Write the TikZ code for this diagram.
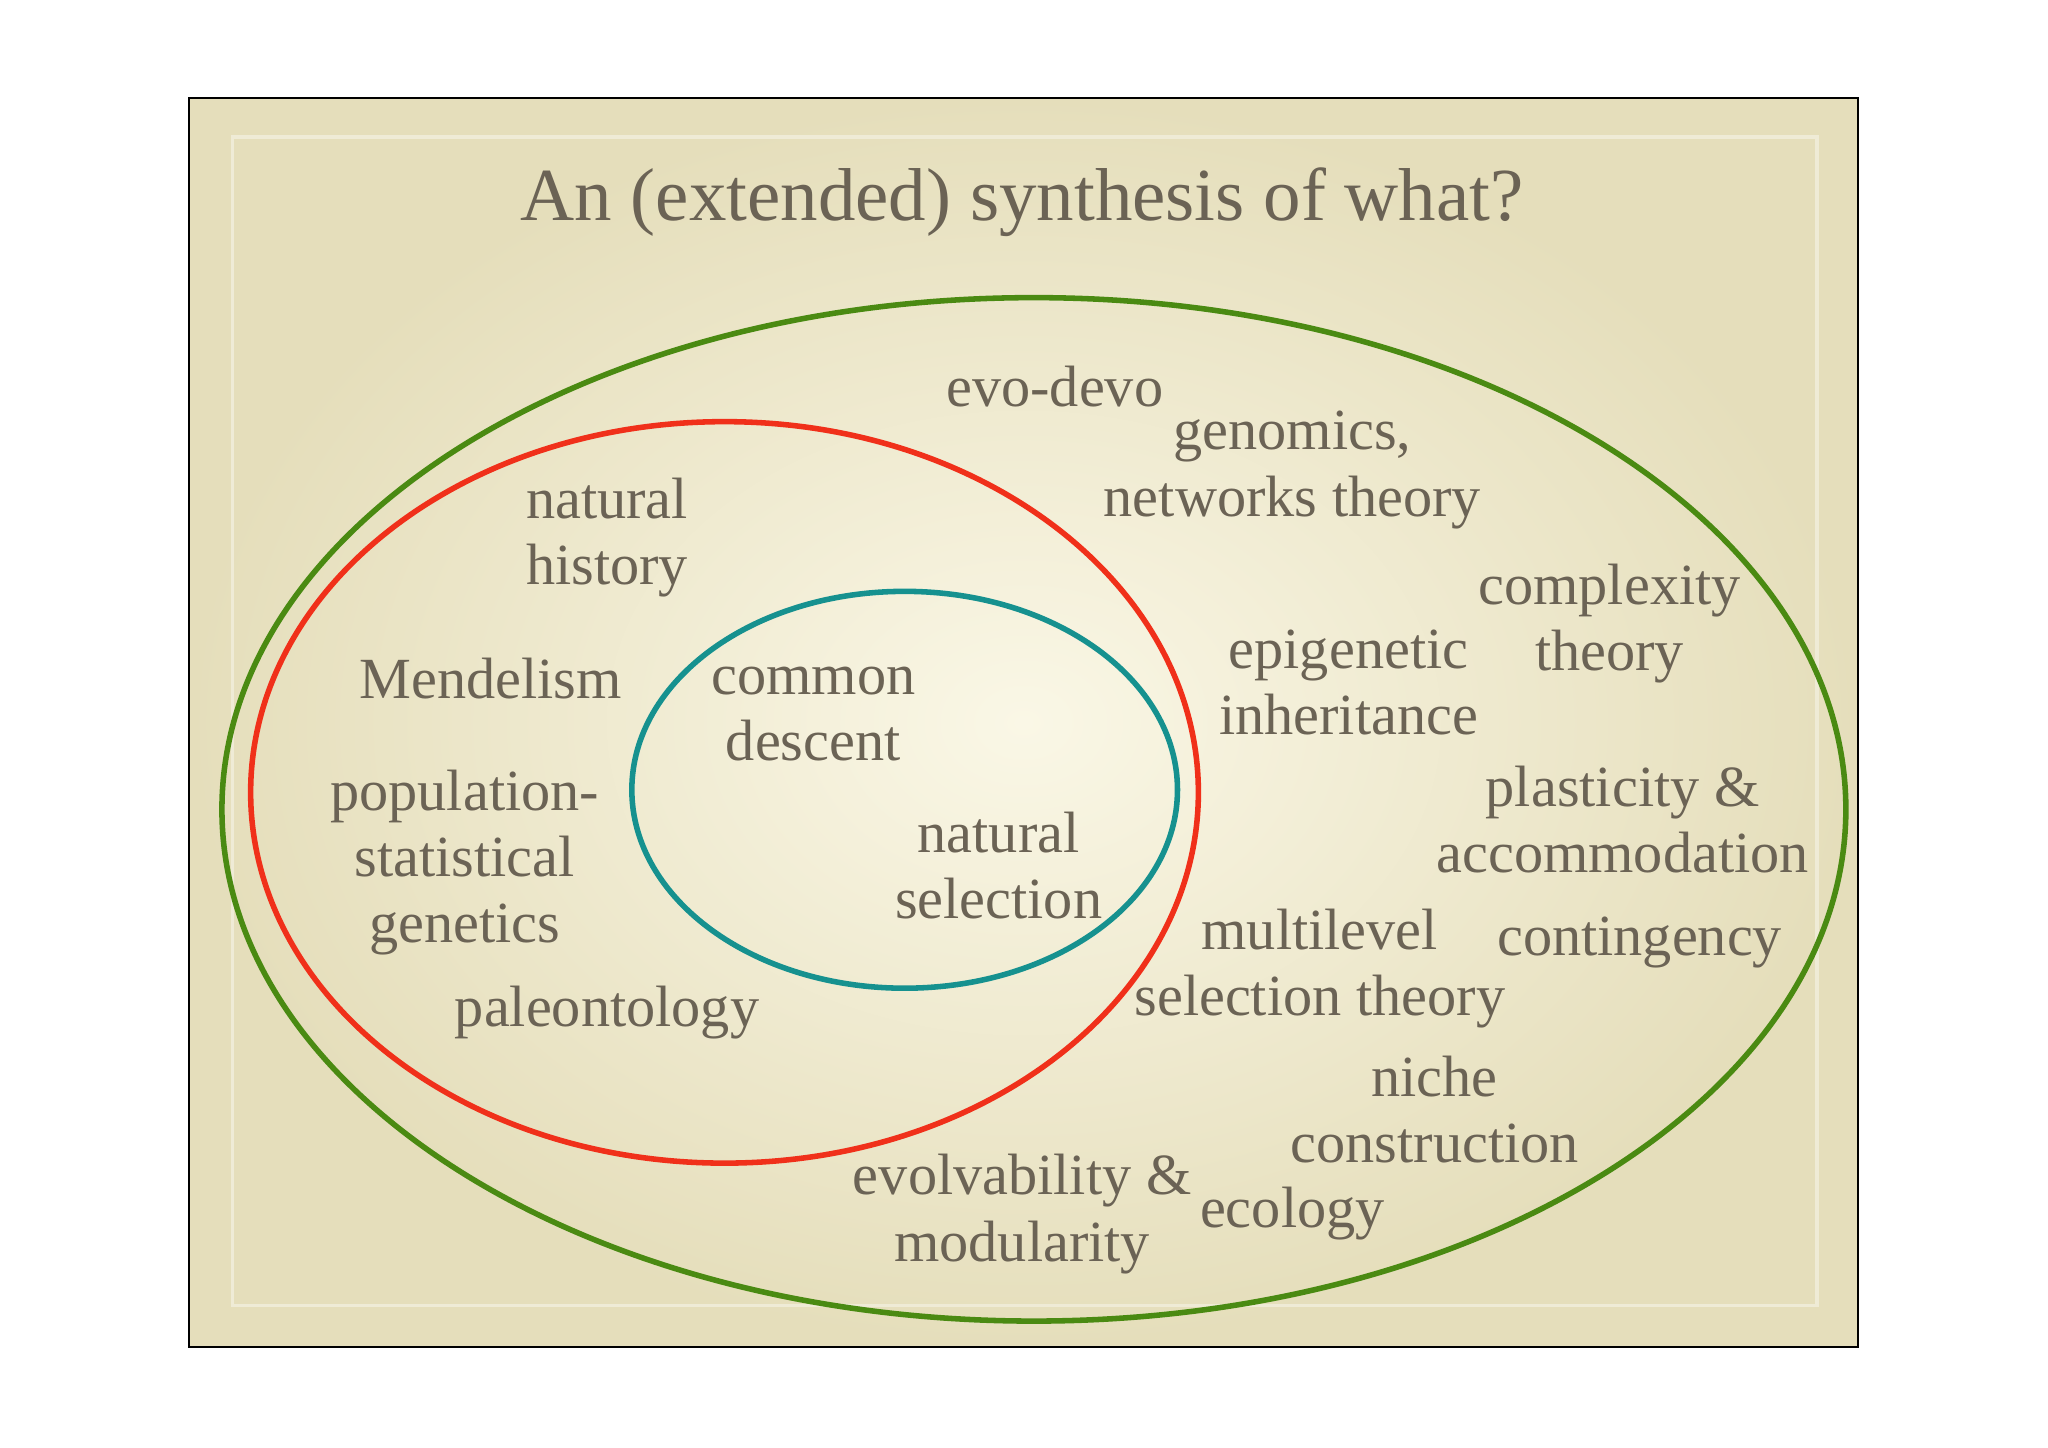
\documentclass[tikz,border=0pt]{standalone}
\usepackage{fontspec}
\setmainfont{Liberation Serif}
\begin{document}
\begin{tikzpicture}[x=0.00992cm,y=-0.00992cm,
  lbl/.style={text=txt,align=center,font=\fontsize{12.6}{14.3}\selectfont,inner sep=0pt},
  ring/.style={line width=1.2pt}]
\definecolor{txt}{HTML}{6B6355}
\definecolor{bgin}{HTML}{FAF7E6}
\definecolor{bgout}{HTML}{E5DEBB}
\definecolor{gr}{HTML}{4A8A12}
\definecolor{rd}{HTML}{F0301A}
\definecolor{tl}{HTML}{16918F}
\useasboundingbox[fill=white] (0,0) rectangle (15.56cm,-11cm);
\shade[inner color=bgin,outer color=bgout] (145,75) rectangle (1423,1032);
\draw[line width=0.4pt] (145,75) rectangle (1423,1032);
\draw[white!40!bgout,line width=0.8pt] (178,105) rectangle (1392,1000);
\node[text=txt,font=\fontsize{16.2}{18}\selectfont] (title) at (783,155) {An (extended) synthesis of what?};
\draw[ring,gr] (792,620) ellipse [x radius=622,y radius=392];
\draw[ring,rd] (555,607) ellipse [x radius=363,y radius=284];
\draw[ring,tl] (693,605) ellipse [x radius=209,y radius=152];
\node[lbl] (evo) at (808,296) {evo-devo};
\node[lbl] (gen) at (990,360) {genomics,\\networks theory};
\node[lbl] (nh) at (465,412) {natural\\history};
\node[lbl] (cx) at (1233,478) {complexity\\theory};
\node[lbl] (ep) at (1033,523) {epigenetic\\inheritance};
\node[lbl] (men) at (376,520) {Mendelism};
\node[lbl] (cd) at (623,547) {common\\descent};
\node[lbl] (pop) at (356,661) {population-\\statistical\\genetics};
\node[lbl] (pl) at (1243,628) {plasticity \&\\accommodation};
\node[lbl] (ns) at (765,663) {natural\\selection};
\node[lbl] (ml) at (1011,742) {multilevel\\selection theory};
\node[lbl] (co) at (1256,722) {contingency};
\node[lbl] (pa) at (465,776) {paleontology};
\node[lbl] (ni) at (1099,850) {niche\\construction};
\node[lbl] (ev) at (783,930) {evolvability \&\\modularity};
\node[lbl] (ec) at (990,930) {ecology};
\end{tikzpicture}
\end{document}
